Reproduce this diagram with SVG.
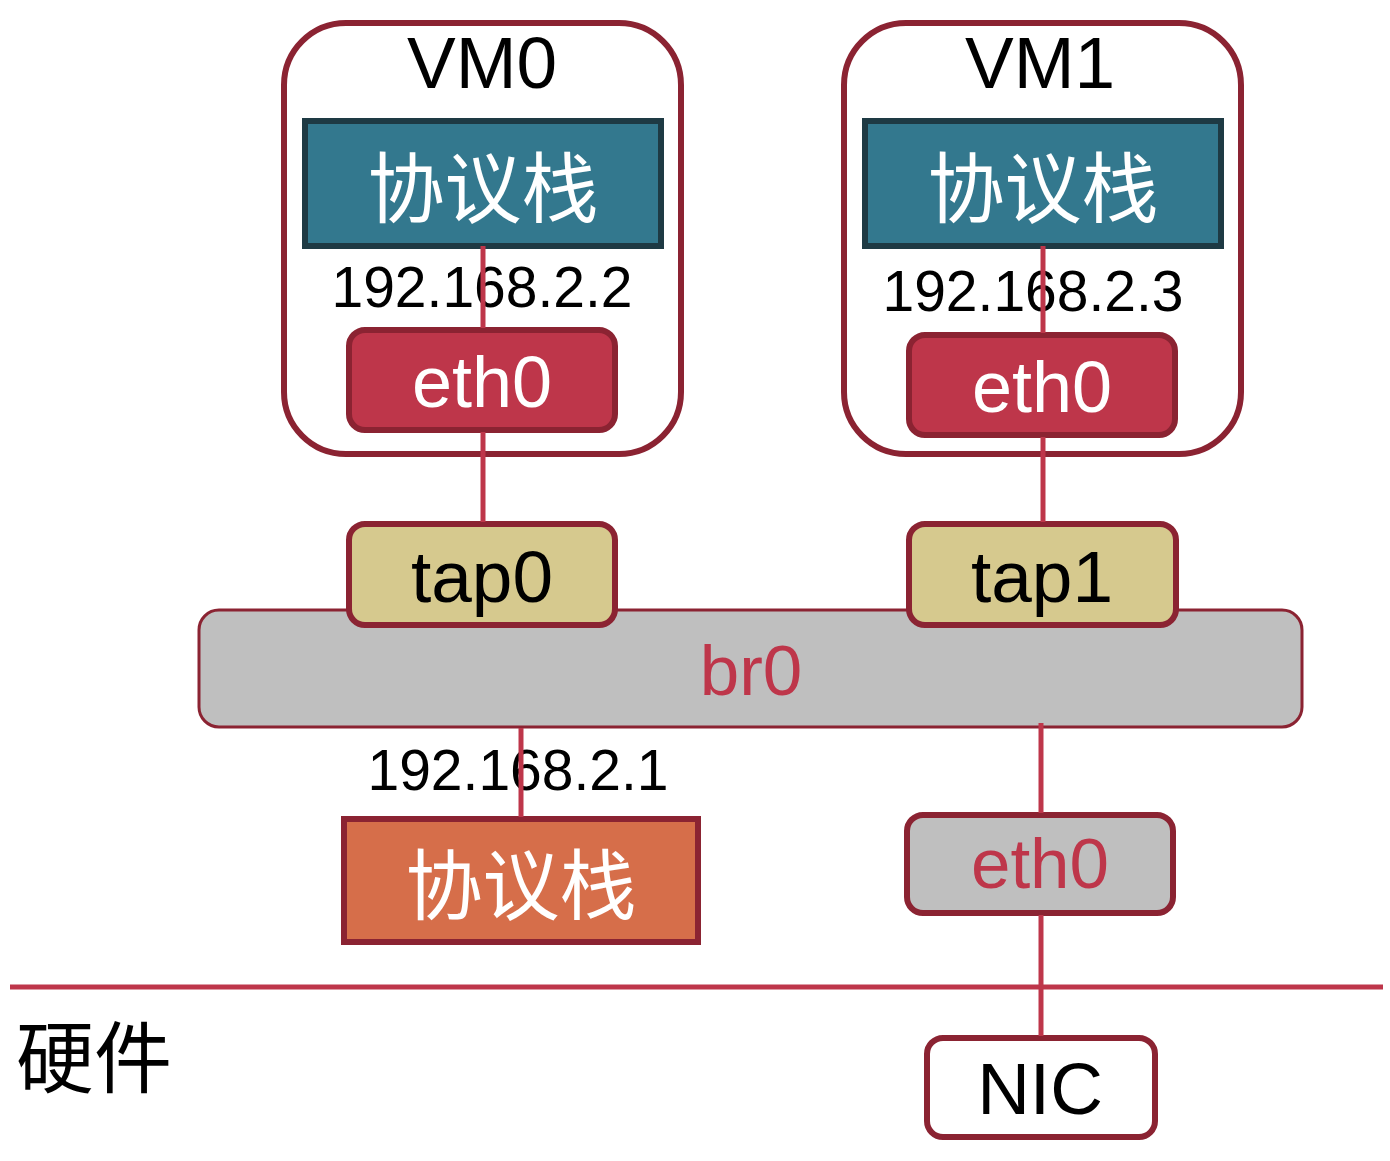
<svg xmlns="http://www.w3.org/2000/svg" width="1390" height="1161" viewBox="0 0 1390 1161">
<style>
.lat{font-family:"Liberation Sans",Arial,sans-serif;text-anchor:middle}
.cjk{font-family:"Noto Sans CJK SC","Noto Sans",sans-serif}
.vm{fill:#fff;stroke:#8B2332;stroke-width:6}
.stack{fill:#33788E;stroke:#1E3A44;stroke-width:6}
.eth{fill:#BE364A;stroke:#8B2332;stroke-width:6}
.tap{fill:#D6C98E;stroke:#8B2332;stroke-width:6}
.conn{stroke:#BE364A;stroke-width:5;fill:none}
</style>
<rect width="1390" height="1161" fill="#fff"/>
<g id="br0">
<rect x="199" y="610" width="1103" height="117" rx="20" fill="#BFBFBF" stroke="#8B2332" stroke-width="3"/>
<text class="lat" x="751" y="695" font-size="71" fill="#BE364A">br0</text>
</g>
<g id="vm0">
<rect class="vm" x="284" y="23" width="397" height="431" rx="62"/>
<text class="lat" x="482" y="88" font-size="73">VM0</text>
</g>
<g id="vm1">
<rect class="vm" x="844" y="23" width="397" height="431" rx="62"/>
<text class="lat" x="1040" y="88" font-size="73">VM1</text>
</g>
<g id="stack0">
<rect class="stack" x="305" y="121" width="356" height="125"/>
<text class="cjk" x="483" y="183" font-size="77" fill="#fff" text-anchor="middle" dominant-baseline="central">协议栈</text>
</g>
<g id="stack1">
<rect class="stack" x="865" y="121" width="356" height="125"/>
<text class="cjk" x="1043" y="183" font-size="77" fill="#fff" text-anchor="middle" dominant-baseline="central">协议栈</text>
</g>
<g id="ip0"><text class="lat" x="482" y="307" font-size="57">192.168.2.2</text></g>
<g id="ip1"><text class="lat" x="1033" y="311" font-size="57">192.168.2.3</text></g>
<g id="eth0-vm0">
<rect class="eth" x="349" y="330" width="266" height="100" rx="16"/>
<text class="lat" x="482" y="407" font-size="72" fill="#fff">eth0</text>
</g>
<g id="eth0-vm1">
<rect class="eth" x="909" y="335" width="266" height="100" rx="16"/>
<text class="lat" x="1042" y="412" font-size="72" fill="#fff">eth0</text>
</g>
<g id="tap0">
<rect class="tap" x="349" y="524" width="266" height="101" rx="16"/>
<text class="lat" x="482" y="602" font-size="73">tap0</text>
</g>
<g id="tap1">
<rect class="tap" x="909" y="524" width="267" height="101" rx="16"/>
<text class="lat" x="1042" y="602" font-size="73">tap1</text>
</g>
<g id="ip-host"><text class="lat" x="518" y="790" font-size="57">192.168.2.1</text></g>
<g id="stack-host">
<rect x="344" y="819" width="354" height="123" fill="#D66E4A" stroke="#8B2332" stroke-width="6"/>
<text class="cjk" x="521" y="880" font-size="77" fill="#fff" text-anchor="middle" dominant-baseline="central">协议栈</text>
</g>
<g id="eth0-host">
<rect x="907" y="815" width="266" height="98" rx="16" fill="#BFBFBF" stroke="#8B2332" stroke-width="6"/>
<text class="lat" x="1040" y="888" font-size="71" fill="#BE364A">eth0</text>
</g>
<g id="nic">
<rect x="927" y="1038" width="228" height="99" rx="16" fill="#fff" stroke="#8B2332" stroke-width="6"/>
<text class="lat" x="1040" y="1114" font-size="73">NIC</text>
</g>
<g id="hw"><text class="cjk" x="16" y="1087" font-size="78">硬件</text></g>
<g id="connectors">
<line class="conn" x1="10" y1="987" x2="1383" y2="987" stroke-width="7"/>
<line class="conn" x1="483" y1="246" x2="483" y2="328"/>
<line class="conn" x1="483" y1="432" x2="483" y2="522"/>
<line class="conn" x1="1043" y1="246" x2="1043" y2="333"/>
<line class="conn" x1="1043" y1="437" x2="1043" y2="522"/>
<line class="conn" x1="521" y1="728" x2="521" y2="817"/>
<line class="conn" x1="1041" y1="723" x2="1041" y2="813"/>
<line class="conn" x1="1041" y1="915" x2="1041" y2="1036"/>
</g>
</svg>
